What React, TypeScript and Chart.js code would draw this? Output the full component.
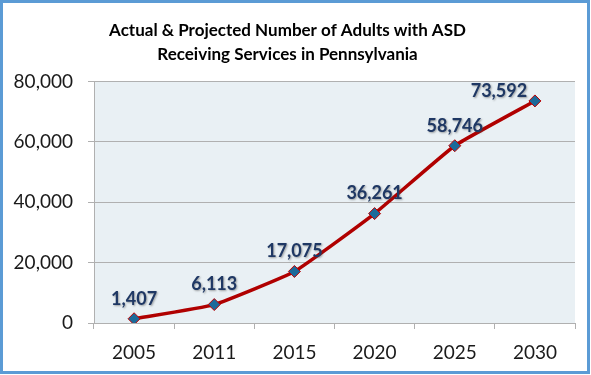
import React, { useEffect, useRef } from "react";
import { Chart, registerables } from "chart.js";

Chart.register(...registerables);

const titleLines = ["Actual & Projected Number of Adults with ASD", "Receiving Services in Pennsylvania"];
const years = ["2005", "2011", "2015", "2020", "2025", "2030"];
const adults = [1407, 6113, 17075, 36261, 58746, 73592];
const yTicks = [0, 20000, 40000, 60000, 80000];

const FONT = "Lato, 'Open Sans', sans-serif";

const fmt = (v: number) => v.toLocaleString("en-US");

const framePlugin = {
  id: "frame",
  beforeDraw(chart: any) {
    const { ctx, chartArea, width, height } = chart;
    ctx.save();
    ctx.fillStyle = "#ffffff";
    ctx.fillRect(0, 0, width, height);
    ctx.fillStyle = "#e9f0f4";
    ctx.fillRect(chartArea.left, chartArea.top, chartArea.right - chartArea.left, chartArea.bottom - chartArea.top);
    ctx.restore();
  },
  afterDraw(chart: any) {
    const { ctx, width, height } = chart;
    ctx.save();
    ctx.strokeStyle = "#5b9bd5";
    ctx.lineWidth = 3;
    ctx.strokeRect(1.5, 1.5, width - 4, height - 4);
    ctx.restore();
  },
};

const labelPlugin = {
  id: "pointLabels",
  afterDatasetsDraw(chart: any) {
    const { ctx } = chart;
    const meta = chart.getDatasetMeta(0);
    const ds = chart.data.datasets[0];
    ctx.save();
    ctx.font = `bold 18px ${FONT}`;
    ctx.textAlign = "center";
    ctx.textBaseline = "middle";
    meta.data.forEach((pt: any, i: number) => {
      let dx = 0;
      let dy = -20;
      if (i === meta.data.length - 1) {
        dx = -36;
        dy = -10;
      }
      ctx.shadowColor = "rgba(60,60,60,0.45)";
      ctx.shadowOffsetX = 1;
      ctx.shadowOffsetY = 1;
      ctx.shadowBlur = 2;
      ctx.fillStyle = "#1f3864";
      ctx.fillText(fmt(ds.data[i]), pt.x + dx, pt.y + dy);
    });
    ctx.restore();
  },
};

export default function App() {
  const ref = useRef<HTMLCanvasElement | null>(null);
  useEffect(() => {
    if (!ref.current) return;
    const chart = new Chart(ref.current, {
      type: "line",
      data: {
        labels: years,
        datasets: [
          {
            data: adults,
            borderColor: "#b00000",
            borderWidth: 3.5,
            pointStyle: "rectRot",
            pointRadius: 6,
            pointBackgroundColor: "#1b6a9a",
            pointBorderColor: "#c00000",
            pointBorderWidth: 1,
            tension: 0.12,
          },
        ],
      },
      options: {
        responsive: false,
        animation: false,
        devicePixelRatio: 1,
        layout: { padding: { left: 0, right: 16, top: 0, bottom: 0 } },
        plugins: {
          legend: { display: false },
          tooltip: { enabled: false },
          title: {
            display: true,
            text: titleLines,
            color: "#000000",
            font: { family: FONT, size: 17, weight: "bold", lineHeight: 1.4 },
            padding: { top: 19, bottom: 15 },
          },
        },
        scales: {
          x: {
            offset: true,
            grid: {
              offset: true,
              drawOnChartArea: false,
              drawTicks: true,
              tickLength: 6,
              color: "#b0b0b0",
            },
            border: { display: true, color: "#b0b0b0" },
            ticks: { color: "#1a1a1a", font: { family: FONT, size: 19 }, padding: 12, maxRotation: 0 },
            afterFit: (s: any) => {
              s.height = 52;
            },
          },
          y: {
            min: 0,
            max: 80000,
            afterBuildTicks: (s: any) => {
              s.ticks = yTicks.map((v) => ({ value: v }));
            },
            grid: { color: "#b0b0b0", tickLength: 6, drawTicks: true },
            border: { display: true, color: "#b0b0b0" },
            ticks: {
              color: "#1a1a1a",
              font: { family: FONT, size: 19 },
              padding: 15,
              callback: (v: any) => fmt(Number(v)),
            },
            afterFit: (s: any) => {
              s.width = 94;
            },
          },
        },
      },
      plugins: [framePlugin, labelPlugin],
    });
    return () => chart.destroy();
  }, []);
  return (
    <div style={{ position: "absolute", left: 0, top: 0, width: 591, height: 375 }}>
      <canvas ref={ref} width={591} height={375} style={{ display: "block" }} />
    </div>
  );
}
